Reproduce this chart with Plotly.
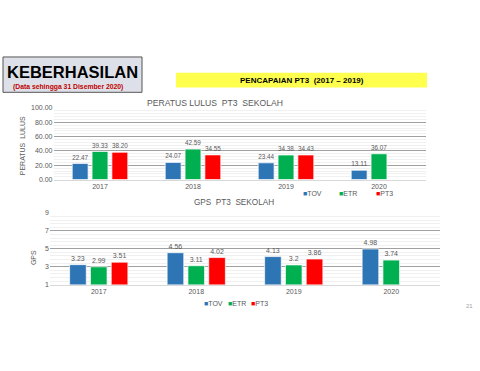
import plotly.graph_objects as go

# ---- data ----
years = ["2017", "2018", "2019", "2020"]
lulus_tov = [22.47, 24.07, 23.44, 13.11]
lulus_etr = [39.33, 42.59, 34.38, 36.07]
lulus_pt3 = [38.20, 34.55, 34.43, None]
gps_tov = [3.23, 4.56, 4.13, 4.98]
gps_etr = [2.99, 3.11, 3.2, 3.74]
gps_pt3 = [3.51, 4.02, 3.86, None]
series_names = ["TOV", "ETR", "PT3"]
series_colors = ["#2E75B6", "#00B050", "#FF0000"]
lulus_ticks = [0, 20, 40, 60, 80, 100]
gps_ticks = [1, 3, 5, 7, 9]

W, H = 480, 371
FONT = "Liberation Sans, Arial, sans-serif"
GREY = "#595959"

def px(x):
    return x / W

def py(y):
    return 1 - y / H

fig = go.Figure()

def fmt2(v):
    return "" if v is None else f"{v:.2f}"

def fmtr(v):
    return "" if v is None else str(v)

for name, vals, col in zip(series_names, [lulus_tov, lulus_etr, lulus_pt3], series_colors):
    fig.add_trace(go.Bar(
        x=years, y=vals, name=name, marker_color=col,
        marker_line=dict(color="rgba(255,255,255,0.7)", width=1),
        text=[fmt2(v) for v in vals], textposition="outside",
        textfont=dict(size=7, color=GREY, family=FONT), cliponaxis=False,
        xaxis="x", yaxis="y", showlegend=False))

for name, vals, col in zip(series_names, [gps_tov, gps_etr, gps_pt3], series_colors):
    fig.add_trace(go.Bar(
        x=years, y=vals, name=name, marker_color=col,
        marker_line=dict(color="rgba(255,255,255,0.7)", width=1),
        text=[fmtr(v) for v in vals], textposition="outside",
        textfont=dict(size=7, color=GREY, family=FONT), cliponaxis=False,
        xaxis="x2", yaxis="y2", showlegend=False))

axis_common = dict(zeroline=False, ticks="",
                   tickfont=dict(size=7, color=GREY, family=FONT))

fig.update_layout(
    width=W, height=H, margin=dict(l=0, r=0, t=0, b=0),
    paper_bgcolor="white", plot_bgcolor="white",
    barmode="group", bargap=0.36, bargroupgap=0.2,
    font=dict(family=FONT, color=GREY),
    xaxis=dict(domain=[px(53.5), px(425.5)], anchor="y", showgrid=False,
               showline=True, linecolor="#d9d9d9", linewidth=1, **axis_common),
    yaxis=dict(domain=[py(179), py(106)], anchor="x", range=[0, 100],
               tickvals=lulus_ticks, tickformat=".2f", showgrid=True, showline=False,
               gridcolor="#a0a0a0", gridwidth=1,
               minor=dict(showgrid=True, dtick=4, gridcolor="#f0f0f0", gridwidth=1),
               **axis_common),
    xaxis2=dict(domain=[px(50), px(440)], anchor="y2", showgrid=False,
                showline=True, linecolor="#d9d9d9", linewidth=1, **axis_common),
    yaxis2=dict(domain=[py(286), py(213)], anchor="x2", range=[1, 9],
                tickvals=gps_ticks, showgrid=True, showline=False,
                gridcolor="#a0a0a0", gridwidth=1,
                minor=dict(showgrid=True, dtick=0.4, tick0=1, gridcolor="#f0f0f0", gridwidth=1),
                **axis_common),
)

shapes = [
    # header box
    dict(type="rect", xref="paper", yref="paper", x0=px(3), x1=px(142), y0=py(90), y1=py(54),
         fillcolor="#dde0e8", line=dict(color="#555555", width=1), layer="below"),
    # yellow band
    dict(type="rect", xref="paper", yref="paper", x0=px(176), x1=px(427), y0=py(85), y1=py(70),
         fillcolor="#FFFF4D", line=dict(width=0), layer="below"),
]
fig.update_layout(shapes=shapes)

def ann(text, x, y, size, color=GREY, bold=False, angle=0, xanchor="center"):
    t = f"<b>{text}</b>" if bold else text
    return dict(text=t, x=px(x), y=py(y), xref="paper", yref="paper", showarrow=False,
                xanchor=xanchor, yanchor="middle", textangle=angle,
                font=dict(size=size, color=color, family=FONT))

def legend_text(names, colors):
    return [f"<span style='color:{c}'>■</span>{n}" for n, c in zip(names, colors)]

anns = [
    ann("KEBERHASILAN", 72, 69.5, 16.5, color="#000000", bold=True),
    ann("(Data sehingga 31 Disember 2020)", 68, 84.5, 6.8, color="#C00000", bold=True),
    ann("PENCAPAIAN PT3&nbsp;&nbsp;(2017 – 2019)", 302, 77.5, 8, color="#000000", bold=True),
    ann("PERATUS LULUS&nbsp; PT3&nbsp; SEKOLAH", 215, 101, 8.6, xanchor="center"),
    ann("PERATUS&nbsp;&nbsp;LULUS", 22, 145, 7, angle=-90),
    ann("GPS&nbsp; PT3&nbsp; SEKOLAH", 234, 202, 8.2),
    ann("GPS", 33, 259, 7, angle=-90),
    ann("21", 469, 308, 6, color="#a0a0a0"),
]
top_leg = legend_text(series_names, series_colors)
for t, x in zip(top_leg, [301, 337, 374]):
    anns.append(ann(t, x, 193, 7, xanchor="left"))
bot_leg = legend_text(series_names, series_colors)
for t, x in zip(bot_leg, [202, 226, 249]):
    anns.append(ann(t, x, 305, 7, xanchor="left"))

fig.update_layout(annotations=anns)

fig.write_html("out.html", config={"displayModeBar": False},
               post_script="document.body.style.margin='0';document.body.style.padding='0';")
